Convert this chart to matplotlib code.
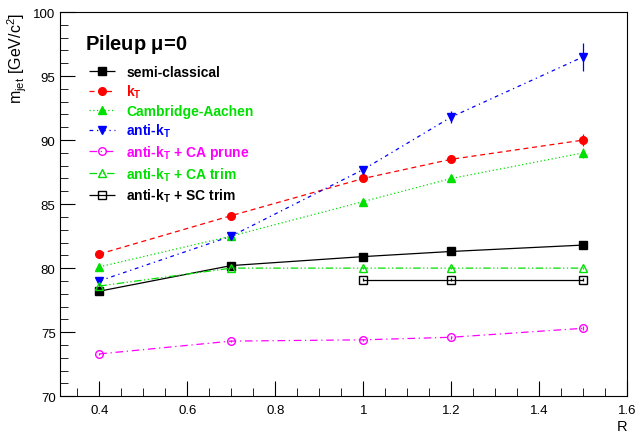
import numpy as np
import matplotlib
matplotlib.use('Agg')
import matplotlib.pyplot as plt
from matplotlib.lines import Line2D
from matplotlib.ticker import MultipleLocator, FuncFormatter

plt.rcParams['font.family'] = ['Liberation Sans', 'DejaVu Sans']
plt.rcParams['mathtext.fontset'] = 'custom'
plt.rcParams['mathtext.rm'] = 'Liberation Sans'
plt.rcParams['mathtext.it'] = 'Liberation Sans'
plt.rcParams['mathtext.bf'] = 'Liberation Sans:bold'

# ── data ─────────────────────────────────────────────────────────────────────
R = [0.4, 0.7, 1.0, 1.2, 1.5]
R_sc_trim = [1.0, 1.2, 1.5]

m_semi = [78.2, 80.2, 80.9, 81.3, 81.8]
m_kt = [81.1, 84.1, 87.0, 88.5, 90.0]
m_ca = [80.1, 82.5, 85.2, 87.0, 89.0]
m_akt = [79.0, 82.5, 87.7, 91.8, 96.5]
m_prune = [73.3, 74.3, 74.4, 74.6, 75.3]
m_ca_trim = [78.6, 80.0, 80.0, 80.0, 80.0]
m_sc_trim = [79.1, 79.1, 79.1]

e_semi = [0.1, 0.1, 0.15, 0.15, 0.2]
e_kt = [0.1, 0.15, 0.2, 0.3, 0.5]
e_ca = [0.1, 0.15, 0.2, 0.25, 0.4]
e_akt = [0.1, 0.2, 0.3, 0.5, 1.1]
e_prune = [0.1, 0.1, 0.1, 0.1, 0.15]
e_ca_trim = [0.1, 0.1, 0.1, 0.1, 0.1]
e_sc_trim = [0.1, 0.1, 0.1]

labels = ['semi-classical', r'k$_\mathregular{T}$', 'Cambridge-Aachen',
          r'anti-k$_\mathregular{T}$', r'anti-k$_\mathregular{T}$ + CA prune',
          r'anti-k$_\mathregular{T}$ + CA trim', r'anti-k$_\mathregular{T}$ + SC trim']

# ── plot ─────────────────────────────────────────────────────────────────────
fig = plt.figure(figsize=(6.36, 4.35), dpi=100)
ax = fig.add_axes([0.094, 0.087, 0.892, 0.883])

series = [
    (R, m_semi, e_semi, 'black', 's', 'black', (0, ()), labels[0]),
    (R, m_kt, e_kt, 'red', 'o', 'red', (0, (4, 3)), labels[1]),
    (R, m_ca, e_ca, '#00e000', '^', '#00e000', (0, (1, 2)), labels[2]),
    (R, m_akt, e_akt, 'blue', 'v', 'blue', (0, (3, 3, 1, 3)), labels[3]),
    (R, m_prune, e_prune, 'magenta', 'o', 'none', (0, (6, 3, 1, 3)), labels[4]),
    (R, m_ca_trim, e_ca_trim, '#00e000', '^', 'none', (0, (6, 2, 1, 2, 1, 2)), labels[5]),
    (R_sc_trim, m_sc_trim, e_sc_trim, 'black', 's', 'none', (0, ()), labels[6]),
]

handles = []
for x, y, e, c, mk, fc, ls, lab in series:
    ax.errorbar(x, y, yerr=e, color=c, marker=mk, markerfacecolor=fc,
                markeredgecolor=c, markersize=5.5, linestyle=ls,
                linewidth=0.9, elinewidth=0.9, capsize=0)
    handles.append(Line2D([], [], color=c, marker=mk, markerfacecolor=fc,
                          markeredgecolor=c, markersize=5.5, linestyle=ls,
                          linewidth=0.9, label=lab))

ax.set_xlim(0.31, 1.6)
ax.set_ylim(70, 100)
ax.xaxis.set_major_locator(MultipleLocator(0.2))
ax.xaxis.set_minor_locator(MultipleLocator(0.05))
ax.yaxis.set_major_locator(MultipleLocator(5))
ax.yaxis.set_minor_locator(MultipleLocator(1))
ax.xaxis.set_major_formatter(FuncFormatter(lambda v, p: f'{v:g}'))
ax.tick_params(which='both', direction='in', top=False, right=False, labelsize=9.5)
ax.tick_params(which='major', length=11)
ax.tick_params(which='minor', length=5.5)
ax.tick_params(axis='x', pad=6)
ax.tick_params(axis='y', pad=3)

ax.set_xlabel('R', fontsize=10.5, loc='right', labelpad=2)
ax.set_ylabel(r'm$_\mathregular{jet}$ [GeV/c$^\mathregular{2}$]', fontsize=11.5,
              loc='top', labelpad=3)

fig.text(85 / 636, 1 - 45 / 435, r'Pileup $\mathbf{\mu}$=0',
         fontsize=14.5, fontweight='bold', va='center')

leg = fig.legend(handles=handles, loc='upper left',
                 bbox_to_anchor=(89 / 636, 1 - 66 / 435),
                 frameon=False, prop={'weight': 'bold', 'size': 10},
                 handlelength=1.9, handletextpad=0.8, labelspacing=0.28,
                 borderpad=0, borderaxespad=0)
for txt, s in zip(leg.get_texts(), series):
    txt.set_color(s[3])

plt.savefig('out.png', dpi=100)
plt.close()
